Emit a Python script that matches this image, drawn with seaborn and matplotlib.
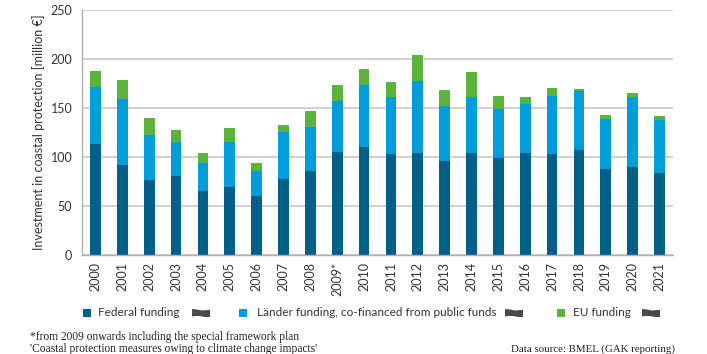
import matplotlib
matplotlib.use("Agg")
import matplotlib.pyplot as plt
import seaborn as sns
import numpy as np
import pandas as pd
from matplotlib.patches import Polygon

years = ["2000", "2001", "2002", "2003", "2004", "2005", "2006", "2007", "2008", "2009*",
         "2010", "2011", "2012", "2013", "2014", "2015", "2016", "2017", "2018", "2019",
         "2020", "2021"]
federal = [113.6, 92.3, 77.0, 81.1, 65.5, 68.9, 59.7, 77.7, 85.5, 105.5,
           109.9, 103.5, 104.5, 95.7, 104.5, 99.4, 104.5, 103.5, 107.5, 88.2,
           89.6, 83.4]
laender = [57.7, 66.8, 45.5, 34.2, 28.1, 46.8, 25.8, 48.1, 45.1, 51.9,
           63.8, 57.6, 73.2, 56.6, 57.0, 49.5, 49.2, 58.3, 59.7, 50.2,
           71.9, 54.0]
eu = [16.3, 19.7, 17.6, 12.2, 10.2, 13.5, 8.8, 6.8, 16.6, 15.6,
      16.3, 15.3, 26.8, 16.3, 25.7, 13.6, 7.1, 8.8, 2.1, 4.4,
      3.4, 4.4]
labels = ["Federal funding", "Länder funding, co-financed from public funds", "EU funding"]
colors = ["#00608a", "#009ddc", "#5bb23c"]

df = pd.DataFrame({"year": years, "federal": federal, "laender": laender, "eu": eu})
df["top_l"] = df["federal"] + df["laender"]
df["top_e"] = df["top_l"] + df["eu"]

sns.set_theme(style="white")
plt.rcParams["font.family"] = ["Lato", "DejaVu Sans"]

fig = plt.figure(figsize=(7.07, 3.54), dpi=100)
ax = fig.add_axes([82/707, 1-255/354, (673-82)/707, (255-10)/354])

w = 0.4
sns.barplot(data=df, x="year", y="top_e", color=colors[2], width=w, ax=ax, saturation=1, linewidth=0)
sns.barplot(data=df, x="year", y="top_l", color=colors[1], width=w, ax=ax, saturation=1, linewidth=0)
sns.barplot(data=df, x="year", y="federal", color=colors[0], width=w, ax=ax, saturation=1, linewidth=0)

ax.set_xlim(-0.5, len(years) - 0.5)
ax.set_ylim(0, 250)
ax.set_yticks([0, 50, 100, 150, 200, 250])
ax.yaxis.grid(True, color="#c8c8c8", linewidth=1.2)
ax.set_axisbelow(True)
for s in ["top", "right"]:
    ax.spines[s].set_visible(False)
for s in ["left", "bottom"]:
    ax.spines[s].set_color("#b0b0b0")
    ax.spines[s].set_linewidth(1.0)

ax.set_xticks(range(len(years)))
ax.set_xticklabels(years, rotation=90, fontsize=9, color="#333333")
ax.set_xticks(np.arange(-0.5, len(years), 1.0), minor=True)
ax.tick_params(axis="x", which="major", length=0, pad=5)
ax.tick_params(axis="x", which="minor", length=4, color="#b0b0b0", width=1)
ax.tick_params(axis="y", length=4, color="#b0b0b0", width=1, labelsize=9, labelcolor="#333333", pad=3)
ax.set_xlabel("")
ax.set_ylabel("Investment in coastal protection [million €]", fontsize=9, color="#333333", labelpad=4)

# legend
leg_y = 1 - 313/354
leg_items = [(87, 98, 201), (243, 257, 514), (561, 573, 651)]
for (sx, tx, ix), lab, col in zip(leg_items, labels, colors):
    fig.patches.append(plt.Rectangle(((sx-4)/707, leg_y - 4/354), 8/707, 8/354,
                                     transform=fig.transFigure, facecolor=col, edgecolor="none"))
    fig.text(tx/707, leg_y, lab, fontsize=8.5, color="#333333", va="center", ha="left")
    pts = np.array([[ix-9, 4], [ix-4, 3.5], [ix+1, 2.5], [ix+6, 3], [ix+9, 3], [ix+9, -4],
                    [ix+4, -4], [ix-1, -3], [ix-6, -3], [ix-9, -3.5]], dtype=float)
    pts[:, 0] /= 707
    pts[:, 1] = leg_y + pts[:, 1] / 354
    fig.patches.append(Polygon(pts, closed=True, transform=fig.transFigure, facecolor="#4a4a4a", edgecolor="none"))

serif = ["Liberation Serif", "DejaVu Serif"]
fig.text(30/707, 1 - 337/354, "*from 2009 onwards including the special framework plan",
         fontsize=8.3, family=serif, color="#222222", va="center", ha="left")
fig.text(30/707, 1 - 349/354, "'Coastal protection measures owing to climate change impacts'",
         fontsize=8.3, family=serif, color="#222222", va="center", ha="left")
fig.text(675/707, 1 - 349/354, "Data source: BMEL (GAK reporting)",
         fontsize=7.8, family=serif, color="#222222", va="center", ha="right")

fig.savefig("out.png", dpi=100)
